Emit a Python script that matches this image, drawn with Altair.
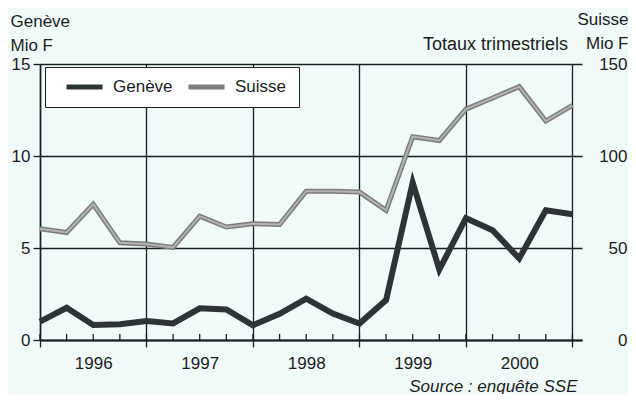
import altair as alt
import pandas as pd

# ---- data ----
quarters = list(range(21))            # quarterly points, start of 1996 .. end of 2000
years = ["1996", "1997", "1998", "1999", "2000"]
series = ["Genève", "Suisse"]
geneve = [1.0, 1.75, 0.82, 0.86, 1.03, 0.9, 1.72, 1.66, 0.8, 1.42, 2.25,
          1.44, 0.9, 2.17, 8.55, 3.83, 6.62, 5.97, 4.43, 7.05, 6.83]
suisse = [60.5, 58.4, 73.8, 52.8, 52.2, 50.3, 67.3, 61.4, 63.2, 62.8, 80.9,
          80.9, 80.4, 70.5, 110.5, 108.4, 125.5, 131.5, 137.7, 119.0, 127.5]
left_ticks = [0, 5, 10, 15]
right_ticks = [0, 50, 100, 150]

df = pd.DataFrame({"q": quarters, "geneve": geneve, "suisse": suisse})

INK = "#1a1d1f"
FONT = "Liberation Sans"
BG = "#f1faf8"

xscale = alt.Scale(domain=[0, 20.36], nice=False, zero=False)
yscale_l = alt.Scale(domain=[0, 15], nice=False)
yscale_r = alt.Scale(domain=[0, 150], nice=False)
color_scale = alt.Scale(domain=series, range=["#2e3436", "#7c7c7c"])
legend = alt.Legend(
    title=None, orient="none", legendX=5, legendY=3, direction="horizontal",
    fillColor="white", strokeColor=INK, padding=12, symbolOffset=7,
    symbolType="stroke", symbolSize=1296, symbolStrokeWidth=5, clipHeight=16,
    labelFontSize=17, labelOffset=8, columnPadding=6, labelColor=INK,
    labelFont=FONT,
)

year_cond = {"condition": {"test": "datum.value % 4 == 0", "value": 1}, "value": 0}
label_expr = "datum.value % 4 == 2 ? " + str(years) + "[(datum.value - 2) / 4] : ''"

x_axis = alt.Axis(
    orient="bottom", values=quarters, grid=True, gridColor=INK, gridWidth=1.3,
    gridOpacity=year_cond, tickOpacity=year_cond, tickSize=7, tickColor=INK,
    tickWidth=1.3, domainColor=INK, domainWidth=2, labelExpr=label_expr,
    labelFontSize=17, labelPadding=8, labelColor=INK, labelFlush=False,
    labelOverlap=False, labelBaseline="top",
    title="Source : enquête SSE", titleFontStyle="italic", titleFontWeight="normal",
    titleFontSize=17, titleColor=INK, titleX=537, titleY=51, titleAlign="right",
    titleBaseline="alphabetic", titleAnchor="end",
)
y_left = alt.Axis(
    orient="left", values=left_ticks, grid=True, gridColor=INK, gridWidth=1.3,
    tickSize=7, tickColor=INK, tickWidth=1.3, domainColor=INK, domainWidth=1.5,
    labelFontSize=17, labelPadding=3, labelColor=INK,
    title=["Genève", "Mio F"], titleAngle=0, titleAlign="left",
    titleBaseline="alphabetic", titleX=-30, titleY=-38, titleLineHeight=24,
    titleFontSize=17, titleFontWeight="normal", titleColor=INK,
)
y_right = alt.Axis(
    orient="right", values=right_ticks, grid=False, ticks=False, tickSize=0,
    domain=False, labelFontSize=17, labelPadding=45, labelAlign="right",
    labelColor=INK,
    title=["Suisse", "Mio F"], titleAngle=0, titleAlign="right",
    titleBaseline="alphabetic", titleX=46, titleY=-40, titleLineHeight=24,
    titleFontSize=17, titleFontWeight="normal", titleColor=INK,
)

base = alt.Chart(df)
X = alt.X("q:Q", scale=xscale, axis=x_axis)

gen_line = base.mark_line(strokeWidth=6).encode(
    x=X,
    y=alt.Y("geneve:Q", scale=yscale_l, axis=y_left),
    color=alt.Color("serie:N", scale=color_scale, legend=legend),
).transform_calculate(serie="'" + series[0] + "'")

minor_ticks = base.mark_rule(color=INK, strokeWidth=1.3).encode(
    x=X,
    y=alt.Y("y0:Q", scale=yscale_l, axis=None),
    y2="y1:Q",
).transform_calculate(y0="0", y1="0.33")

sui_line = base.mark_line(strokeWidth=5).encode(
    x=X,
    y=alt.Y("suisse:Q", scale=yscale_r, axis=y_right),
    color=alt.Color("serie:N", scale=color_scale, legend=legend),
).transform_calculate(serie="'" + series[1] + "'")

sui_inner = base.mark_line(strokeWidth=2, color="#b4b4b4").encode(
    x=X,
    y=alt.Y("suisse:Q", scale=yscale_r, axis=None),
)

chart = (
    alt.layer(minor_ticks, gen_line, sui_line, sui_inner)
    .resolve_scale(y="independent")
    .properties(
        width=542, height=276,
        padding={"left": 32, "top": 56, "right": 46, "bottom": 54},
        autosize=alt.AutoSizeParams(type="none"),
        background=BG,
        title=alt.Title(
            "Totaux trimestriels", anchor="end", frame="group", orient="top",
            offset=0, dx=-14, dy=58, baseline="alphabetic", fontSize=18,
            fontWeight="normal", font=FONT, color=INK,
        ),
    )
    .configure_view(stroke=None)
    .configure_axis(labelFont=FONT, titleFont=FONT)
)

chart.save("out.html", embed_options={"renderer": "svg", "actions": False})
